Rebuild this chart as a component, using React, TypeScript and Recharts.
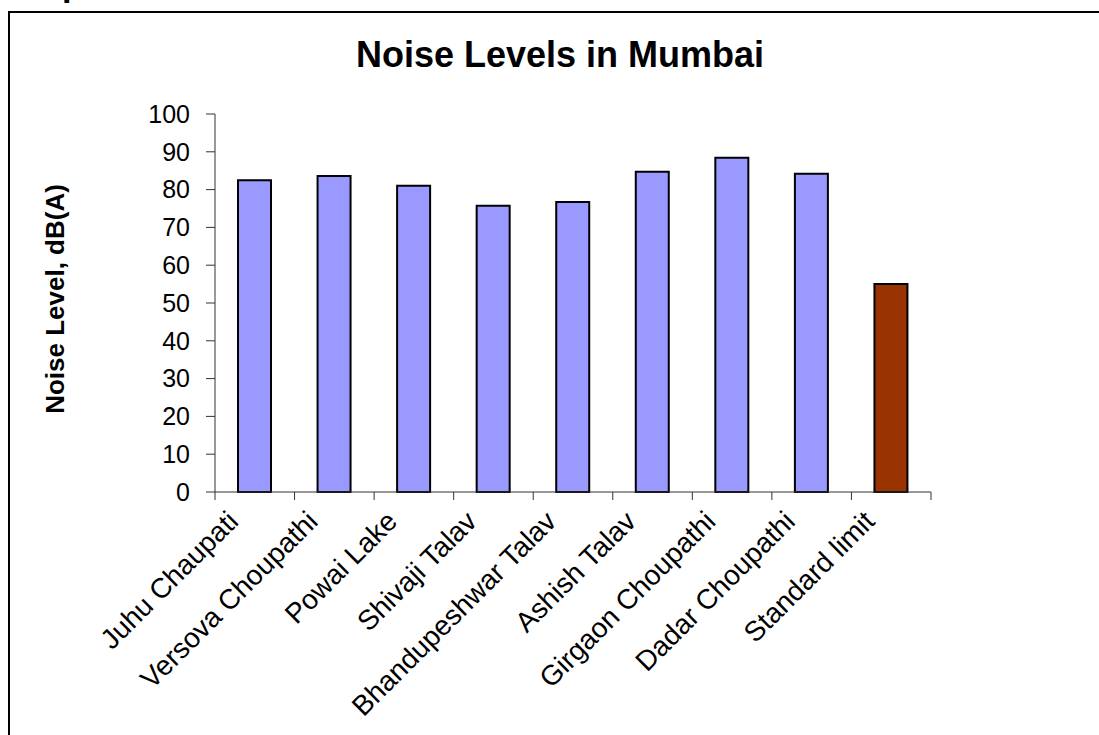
import { BarChart, Bar, XAxis, YAxis, Cell } from 'recharts'

const sites = [
  'Juhu Chaupati',
  'Versova Choupathi',
  'Powai Lake',
  'Shivaji Talav',
  'Bhandupeshwar Talav',
  'Ashish Talav',
  'Girgaon Choupathi',
  'Dadar Choupathi',
  'Standard limit',
]
const noiseLevels = [82.5, 83.6, 81.0, 75.7, 76.7, 84.7, 88.4, 84.2, 55.0]
const barColors = ['#9999FF', '#9999FF', '#9999FF', '#9999FF', '#9999FF', '#9999FF', '#9999FF', '#9999FF', '#993300']
const yTicks = [0, 10, 20, 30, 40, 50, 60, 70, 80, 90, 100]

const data = sites.map((site, i) => ({ site, level: noiseLevels[i] }))

const W = 1099
const H = 735
const PLOT_LEFT = 215
const PLOT_RIGHT = 931
const PLOT_TOP = 114
const PLOT_BOTTOM = 492
const HALF_BAND = (PLOT_RIGHT - PLOT_LEFT) / sites.length / 2
const FONT = '"Liberation Sans", Arial, Helvetica, sans-serif'

function SiteTick(props: any) {
  const { x, payload, index } = props
  const last = index === sites.length - 1
  return (
    <g>
      <line x1={x - HALF_BAND} x2={x - HALF_BAND} y1={PLOT_BOTTOM} y2={PLOT_BOTTOM + 8} stroke="#333" />
      {last && (
        <line x1={x + HALF_BAND} x2={x + HALF_BAND} y1={PLOT_BOTTOM} y2={PLOT_BOTTOM + 8} stroke="#333" />
      )}
      <text
        transform={`translate(${x - 15},${PLOT_BOTTOM + 31}) rotate(-45)`}
        textAnchor="end"
        fontSize={28}
        fontFamily={FONT}
        fill="#000"
      >
        {payload.value}
      </text>
    </g>
  )
}

export default function App() {
  return (
    <div style={{ position: 'absolute', left: 0, top: 0, width: W, height: H, background: '#fff' }}>
      <BarChart
        width={W}
        height={H}
        data={data}
        margin={{ top: PLOT_TOP, right: W - PLOT_RIGHT, bottom: 0, left: 0 }}
      >
        <rect x={9} y={12} width={W + 20} height={H + 20} fill="none" stroke="#000" strokeWidth={2} />
        <text x={62} y={-4} fontSize={34} fontWeight="bold" fontFamily={FONT} fill="#000">p</text>
        <text
          x={560}
          y={67}
          textAnchor="middle"
          fontSize={36}
          fontWeight="bold"
          fontFamily={FONT}
          fill="#000"
        >
          Noise Levels in Mumbai
        </text>
        <text
          transform="translate(64,299) rotate(-90)"
          textAnchor="middle"
          fontSize={26}
          fontWeight="bold"
          fontFamily={FONT}
          fill="#000"
        >
          Noise Level, dB(A)
        </text>
        <XAxis
          dataKey="site"
          height={H - PLOT_BOTTOM}
          interval={0}
          tickLine={false}
          axisLine={{ stroke: '#333' }}
          tick={<SiteTick />}
        />
        <YAxis
          width={PLOT_LEFT}
          domain={[0, 100]}
          ticks={yTicks}
          interval={0}
          tickSize={9}
          tickMargin={16}
          axisLine={{ stroke: '#333' }}
          tickLine={{ stroke: '#333' }}
          tick={{ fontSize: 25, fill: '#000', fontFamily: FONT }}
        />
        <Bar dataKey="level" barSize={33} stroke="#000" strokeWidth={2} isAnimationActive={false}>
          {data.map((d, i) => (
            <Cell key={d.site} fill={barColors[i]} />
          ))}
        </Bar>
      </BarChart>
    </div>
  )
}
